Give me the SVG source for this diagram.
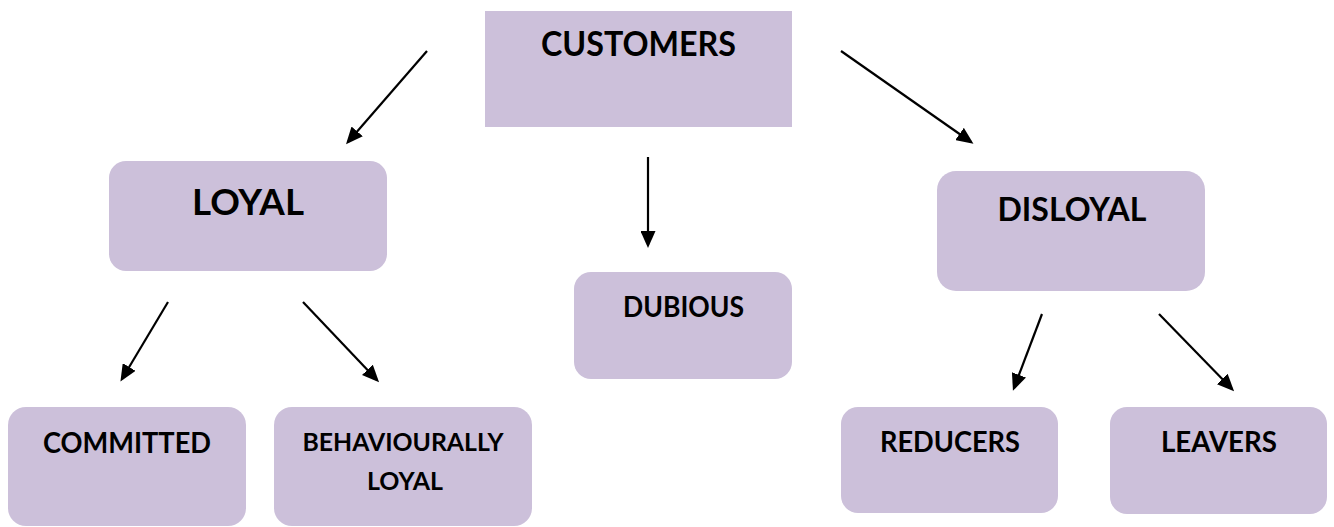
<svg xmlns="http://www.w3.org/2000/svg" width="1334" height="527" viewBox="0 0 1334 527">
  <defs>
    <marker id="arrow" markerUnits="userSpaceOnUse" markerWidth="17" markerHeight="15" refX="14" refY="7.5" orient="auto">
      <path d="M0,0 L17,7.5 L0,15 Z" fill="#000"/>
    </marker>
    <style>
      .box { fill: #CCC0DA; }
      .lbl { font-family: Lato, "Open Sans", "Liberation Sans", sans-serif; font-weight: bold; fill: #000; text-anchor: middle; }
      .edge { stroke: #000; stroke-width: 2.2; fill: none; marker-end: url(#arrow); }
    </style>
  </defs>
  <rect width="1334" height="527" fill="#fff"/>

  <!-- connectors -->
  <g id="connectors">
    <line class="edge" x1="427" y1="51" x2="348" y2="142"/>
    <line class="edge" x1="841" y1="51" x2="971" y2="142"/>
    <line class="edge" x1="648" y1="157" x2="648" y2="245"/>
    <line class="edge" x1="168" y1="302" x2="122" y2="379"/>
    <line class="edge" x1="303" y1="302" x2="377" y2="380"/>
    <line class="edge" x1="1042" y1="314" x2="1014" y2="388"/>
    <line class="edge" x1="1159" y1="314" x2="1232" y2="389"/>
  </g>

  <!-- nodes -->
  <g id="customers">
    <rect class="box" x="485" y="11" width="307" height="116"/>
    <text class="lbl" x="638.5" y="56" font-size="33.5" textLength="195" lengthAdjust="spacingAndGlyphs">CUSTOMERS</text>
  </g>
  <g id="loyal">
    <rect class="box" x="109" y="161" width="278" height="110" rx="17"/>
    <text class="lbl" x="248" y="215" font-size="37" textLength="112" lengthAdjust="spacingAndGlyphs">LOYAL</text>
  </g>
  <g id="dubious">
    <rect class="box" x="574" y="272" width="218" height="107" rx="17"/>
    <text class="lbl" x="683.5" y="316.5" font-size="28" textLength="121" lengthAdjust="spacingAndGlyphs">DUBIOUS</text>
  </g>
  <g id="disloyal">
    <rect class="box" x="937" y="171" width="268" height="120" rx="19"/>
    <text class="lbl" x="1072" y="221" font-size="32.5" textLength="149" lengthAdjust="spacingAndGlyphs">DISLOYAL</text>
  </g>
  <g id="committed">
    <rect class="box" x="8" y="407" width="238" height="119" rx="18"/>
    <text class="lbl" x="127" y="452.5" font-size="28" textLength="168" lengthAdjust="spacingAndGlyphs">COMMITTED</text>
  </g>
  <g id="behaviourally-loyal">
    <rect class="box" x="274" y="407" width="258" height="119" rx="18"/>
    <text class="lbl" x="403" y="451" font-size="25.5" textLength="201" lengthAdjust="spacingAndGlyphs">BEHAVIOURALLY</text>
    <text class="lbl" x="405" y="490" font-size="25.5" textLength="76" lengthAdjust="spacingAndGlyphs">LOYAL</text>
  </g>
  <g id="reducers">
    <rect class="box" x="841" y="407" width="217" height="106" rx="17"/>
    <text class="lbl" x="950" y="451.5" font-size="28" textLength="140" lengthAdjust="spacingAndGlyphs">REDUCERS</text>
  </g>
  <g id="leavers">
    <rect class="box" x="1110" y="407" width="217" height="107" rx="17"/>
    <text class="lbl" x="1219" y="451.5" font-size="28" textLength="116" lengthAdjust="spacingAndGlyphs">LEAVERS</text>
  </g>
</svg>
